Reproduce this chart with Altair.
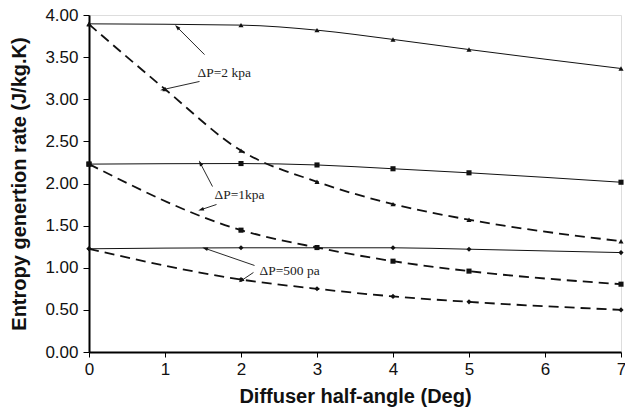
import math
import altair as alt
import pandas as pd

# Diffuser half-angle (deg) and entropy generation rate (J/kg.K)
angles_a = [0, 2, 3, 4, 5, 7]
angles_b = [0, 1, 2, 3, 4, 5, 7]

kpa2_solid = [3.895, 3.88, 3.82, 3.71, 3.59, 3.365]
kpa2_dashed = [3.89, 3.12, 2.39, 2.02, 1.755, 1.57, 1.315]
kpa1_solid = [2.23, 2.237, 2.22, 2.175, 2.127, 2.015]
kpa1_dashed = [2.23, 1.446, 1.24, 1.078, 0.96, 0.805]
pa500_solid = [1.225, 1.237, 1.237, 1.237, 1.22, 1.18]
pa500_dashed = [1.225, 0.86, 0.75, 0.66, 0.595, 0.50]

# Callout labels and their arrows (tail -> head, in data units)
label_text = ["ΔP=2 kpa", "ΔP=1kpa", "ΔP=500 pa"]
label_x = [1.428, 1.651, 2.243]
label_y = [3.317, 1.869, 0.967]

arrow_tail_x = [1.52, 1.454, 1.625, 1.678, 2.178, 2.164]
arrow_tail_y = [3.53, 3.211, 1.964, 1.751, 1.027, 0.944]
arrow_head_x = [1.164, 0.980, 1.467, 1.480, 1.533, 2.007]
arrow_head_y = [3.852, 3.116, 2.237, 1.691, 1.228, 0.849]

W, H = 532, 337
X_MAX, Y_MAX = 7, 4

rows = []
def add(series, xs, ys, style, shape):
    for x, y in zip(xs, ys):
        rows.append({"angle": x, "rate": y, "series": series, "style": style, "shape": shape})

add("2 kpa solid", angles_a, kpa2_solid, "solid", "triangle-up")
add("2 kpa dashed", angles_b, kpa2_dashed, "dashed", "triangle-up")
add("1 kpa solid", angles_a, kpa1_solid, "solid", "square")
add("1 kpa dashed", angles_a, kpa1_dashed, "dashed", "square")
add("500 pa solid", angles_a, pa500_solid, "solid", "diamond")
add("500 pa dashed", angles_a, pa500_dashed, "dashed", "diamond")
df = pd.DataFrame(rows)

arrows = pd.DataFrame({
    "tx": arrow_tail_x, "ty": arrow_tail_y,
    "hx": arrow_head_x, "hy": arrow_head_y,
})
# screen-space direction of each arrow, for rotating its head
dxp = (arrows["hx"] - arrows["tx"]) * W / X_MAX
dyp = -(arrows["hy"] - arrows["ty"]) * H / Y_MAX
arrows["rot"] = [math.degrees(math.atan2(a, -b)) % 360 for a, b in zip(dxp, dyp)]

labels = pd.DataFrame({"text": label_text, "x": label_x, "y": label_y})

x_scale = alt.Scale(domain=[0, X_MAX], nice=False, zero=True)
y_scale = alt.Scale(domain=[0, Y_MAX], nice=False)

x_axis = alt.Axis(
    title="Diffuser half-angle (Deg)", values=list(range(0, 8)), format="d",
    grid=False, domainColor="#000", domainWidth=2, tickColor="#000", tickSize=5,
    labelFont="Liberation Sans", labelFontSize=17, labelColor="#111", labelPadding=4,
    labelFlush=False,
    titleFont="Liberation Sans", titleFontSize=20, titleFontWeight="bold",
    titleColor="#111", titlePadding=9,
)
y_axis = alt.Axis(
    title="Entropy genertion rate (J/kg.K)", values=[i * 0.5 for i in range(9)], format=".2f",
    grid=False, domainColor="#000", domainWidth=2, tickColor="#000", tickSize=6,
    labelFont="Liberation Sans", labelFontSize=17, labelColor="#111", labelPadding=5,
    labelFlush=False,
    titleFont="Liberation Sans", titleFontSize=20, titleFontWeight="bold",
    titleColor="#111", titlePadding=15,
)

base = alt.Chart(df)

solid_lines = base.transform_filter(alt.datum.style == "solid").mark_line(
    color="#111", strokeWidth=1, interpolate="monotone"
).encode(
    x=alt.X("angle:Q", scale=x_scale, axis=x_axis),
    y=alt.Y("rate:Q", scale=y_scale, axis=y_axis),
    detail="series:N",
)

dashed_lines = base.transform_filter(alt.datum.style == "dashed").mark_line(
    color="#111", strokeWidth=1.8, strokeDash=[10, 6], interpolate="monotone"
).encode(
    x=alt.X("angle:Q", scale=x_scale),
    y=alt.Y("rate:Q", scale=y_scale),
    detail="series:N",
)

markers = base.mark_point(filled=True, color="#111", opacity=1).encode(
    x=alt.X("angle:Q", scale=x_scale),
    y=alt.Y("rate:Q", scale=y_scale),
    shape=alt.Shape("shape:N", scale=None, legend=None),
    size=alt.value(26),
)

arrow_shafts = alt.Chart(arrows).mark_rule(color="#111", strokeWidth=0.9).encode(
    x=alt.X("tx:Q", scale=x_scale),
    y=alt.Y("ty:Q", scale=y_scale),
    x2="hx:Q",
    y2="hy:Q",
)

arrow_heads = alt.Chart(arrows).mark_point(
    shape="M0,-1L-0.55,0.7L0.55,0.7Z", filled=True, color="#111", opacity=1, size=45
).encode(
    x=alt.X("hx:Q", scale=x_scale),
    y=alt.Y("hy:Q", scale=y_scale),
    angle=alt.Angle("rot:Q", scale=None),
)

label_marks = alt.Chart(labels).mark_text(
    align="left", baseline="middle", font="Liberation Serif", fontSize=13.5, color="#222"
).encode(
    x=alt.X("x:Q", scale=x_scale),
    y=alt.Y("y:Q", scale=y_scale),
    text="text:N",
)

chart = alt.layer(
    solid_lines, dashed_lines, markers, arrow_shafts, arrow_heads, label_marks
).properties(
    width=W, height=H,
    autosize=alt.AutoSizeParams(type="none"),
    padding={"left": 89, "top": 15, "right": 4, "bottom": 61},
).configure_view(
    stroke="#222", strokeWidth=1
).configure(background="white")

chart.save("out.html", embed_options={"renderer": "svg", "actions": False})
